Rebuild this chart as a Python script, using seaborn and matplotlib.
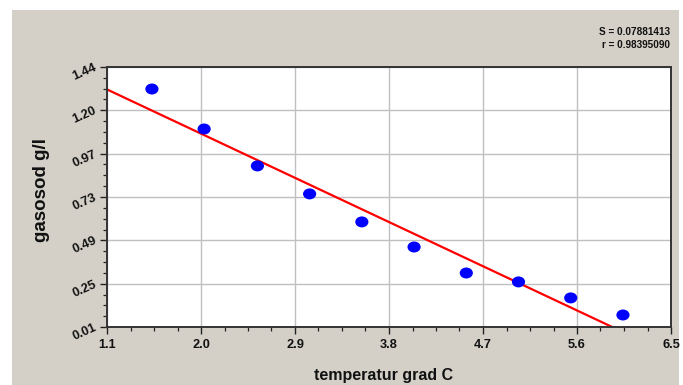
import numpy as np
import pandas as pd
import seaborn as sns
import matplotlib
matplotlib.use("Agg")
import matplotlib.pyplot as plt
from matplotlib.patches import Rectangle
from matplotlib.path import Path
from matplotlib.ticker import AutoMinorLocator, FixedLocator

# ---- data ----
temperature = [1.53, 2.03, 2.54, 3.04, 3.54, 4.04, 4.54, 5.04, 5.54, 6.04]
gas = [1.319, 1.099, 0.896, 0.742, 0.588, 0.450, 0.307, 0.258, 0.170, 0.076]
x_ticks = [1.1, 2.0, 2.9, 3.8, 4.7, 5.6, 6.5]
x_tick_labels = ["1.1", "2.0", "2.9", "3.8", "4.7", "5.6", "6.5"]
y_tick_labels = ["0.01", "0.25", "0.49", "0.73", "0.97", "1.20", "1.44"]
y_min, y_max = 0.01, 1.44
stats_lines = ["S = 0.07881413", "r = 0.98395090"]
x_label = "temperatur grad C"
y_label = "gasosod g/l"

df = pd.DataFrame({"temperature": temperature, "gas": gas})

sns.set_style("white")
plt.rcParams["font.family"] = ["Liberation Sans", "DejaVu Sans"]

W, H = 683, 385
fig = plt.figure(figsize=(W / 100, H / 100), dpi=100)
fig.patch.set_facecolor("white")
bg = "#d4d0c8"
fig.patches.append(Rectangle((12 / W, 0), (679 - 12) / W, (H - 10) / H,
                             transform=fig.transFigure, facecolor=bg,
                             edgecolor="none", zorder=-10))

left, right, top, bottom = 107, 671, 67, 327
ax = fig.add_axes([left / W, (H - bottom) / H, (right - left) / W, (bottom - top) / H])
ax.set_zorder(1)
ax.set_facecolor("white")
ax.set_xlim(x_ticks[0], x_ticks[-1])
ax.set_ylim(y_min, y_max)

circ = Path.unit_circle()
ell = Path(circ.vertices * np.array([1.2, 1.0]), circ.codes)

sns.regplot(data=df, x="temperature", y="gas", ax=ax, ci=None, truncate=False,
            marker=ell,
            scatter_kws=dict(s=90, color="#0000ff", edgecolors="none", zorder=3, alpha=1),
            line_kws=dict(color="#ff0000", lw=1.6, zorder=2))

ax.set_xlim(x_ticks[0], x_ticks[-1])
ax.set_ylim(y_min, y_max)

y_ticks = list(np.linspace(y_min, y_max, len(y_tick_labels)))
ax.xaxis.set_major_locator(FixedLocator(x_ticks))
ax.yaxis.set_major_locator(FixedLocator(y_ticks))
ax.set_xticklabels(x_tick_labels)
ax.set_yticklabels(y_tick_labels)
ax.xaxis.set_minor_locator(AutoMinorLocator(4))
ax.yaxis.set_minor_locator(AutoMinorLocator(4))

ax.grid(True, which="major", color="#c0c0c0", lw=1.0)
ax.set_axisbelow(True)

for s in ax.spines.values():
    s.set_visible(True)
    s.set_color("#333333")
    s.set_linewidth(1.4)

ax.tick_params(axis="both", which="major", direction="out", length=5, width=1.0,
               color="#222222", labelsize=9.2, labelcolor="#111111")
ax.tick_params(axis="both", which="minor", direction="out", length=3, width=0.9,
               color="#222222")
ax.tick_params(axis="x", which="both", bottom=True, top=False, pad=4)
ax.tick_params(axis="y", which="both", left=True, right=False, pad=3)
for lab in ax.get_xticklabels():
    lab.set_fontweight("bold")
for lab in ax.get_yticklabels():
    lab.set_fontweight("bold")
    lab.set_rotation(24)
    lab.set_rotation_mode("anchor")
    lab.set_ha("right")
    lab.set_va("center")

ax.set_xlabel(x_label, fontsize=11.5, fontweight="bold", color="#111111")
ax.set_ylabel(y_label, fontsize=13.5, fontweight="bold", color="#111111")
ax.xaxis.set_label_coords(0.49, -0.188)
ax.xaxis.label.set_va("center")
ax.yaxis.set_label_coords(-0.117, 0.527)
ax.yaxis.label.set_va("center")

fig.text(670 / W, 1 - 32 / H, stats_lines[0], ha="right", va="center",
         fontsize=7.2, fontweight="bold", color="#111111")
fig.text(670 / W, 1 - 45.5 / H, stats_lines[1], ha="right", va="center",
         fontsize=7.2, fontweight="bold", color="#111111")

fig.savefig("out.png", dpi=100, facecolor=fig.get_facecolor())
